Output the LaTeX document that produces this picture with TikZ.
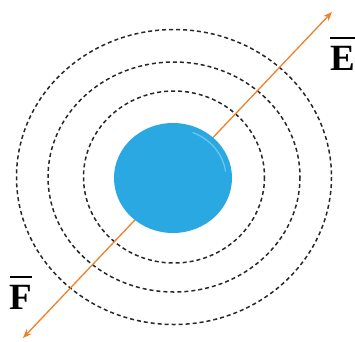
\documentclass[tikz,border=0pt]{standalone}
\usepackage{fontspec}
\setmainfont{Liberation Serif}
\usepackage{xcolor}
\usepackage{tikz}
\usetikzlibrary{arrows.meta, shapes.geometric}

\definecolor{dropblue}{RGB}{42,168,226}
\definecolor{dropshine}{RGB}{110,200,238}
\definecolor{fieldorange}{RGB}{238,128,44}
\definecolor{ringgray}{RGB}{40,40,40}

\newcommand{\barvec}[1]{\vbox{\hrule height 2pt\kern 7pt\hbox{#1}}}

\begin{document}
\begin{tikzpicture}[
  x=1pt, y=-1pt,
  ring/.style={draw=ringgray, line width=1.5pt, dash pattern=on 4pt off 3pt},
  charge/.style={ellipse, fill=dropblue, inner sep=0pt, minimum width=118pt, minimum height=110pt},
  field/.style={{Stealth[length=9pt,width=7pt]}-{Stealth[length=9pt,width=7pt]}, draw=fieldorange, line width=1.3pt},
  vec/.style={font=\fontsize{37}{37}\selectfont\bfseries, inner sep=0pt}
]
\useasboundingbox (0,0) rectangle (355,341);
\def\cx{174}
\def\cy{177}

% equipotential rings
\draw[ring] (\cx,\cy) ellipse [x radius=90.5, y radius=86];
\draw[ring] (\cx,\cy) ellipse [x radius=126, y radius=115];
\draw[ring] (\cx,\cy) ellipse [x radius=157.5, y radius=147.5];

\coordinate (ftip) at (23,338);
\coordinate (etip) at (332,12);
\draw[field] (ftip) -- (etip);

\node[charge] (q) at (173,178) {};
\draw[dropshine, line width=1.2pt, line cap=round] (q.center) ++(-68:53 and 49) arc [start angle=-68, end angle=-8, x radius=53, y radius=49];

\node[vec, anchor=base west] (E) at (330,70) {\barvec{E}};
\node[vec, anchor=base] (F) at (21,309) {\barvec{F}};
\end{tikzpicture}
\end{document}
